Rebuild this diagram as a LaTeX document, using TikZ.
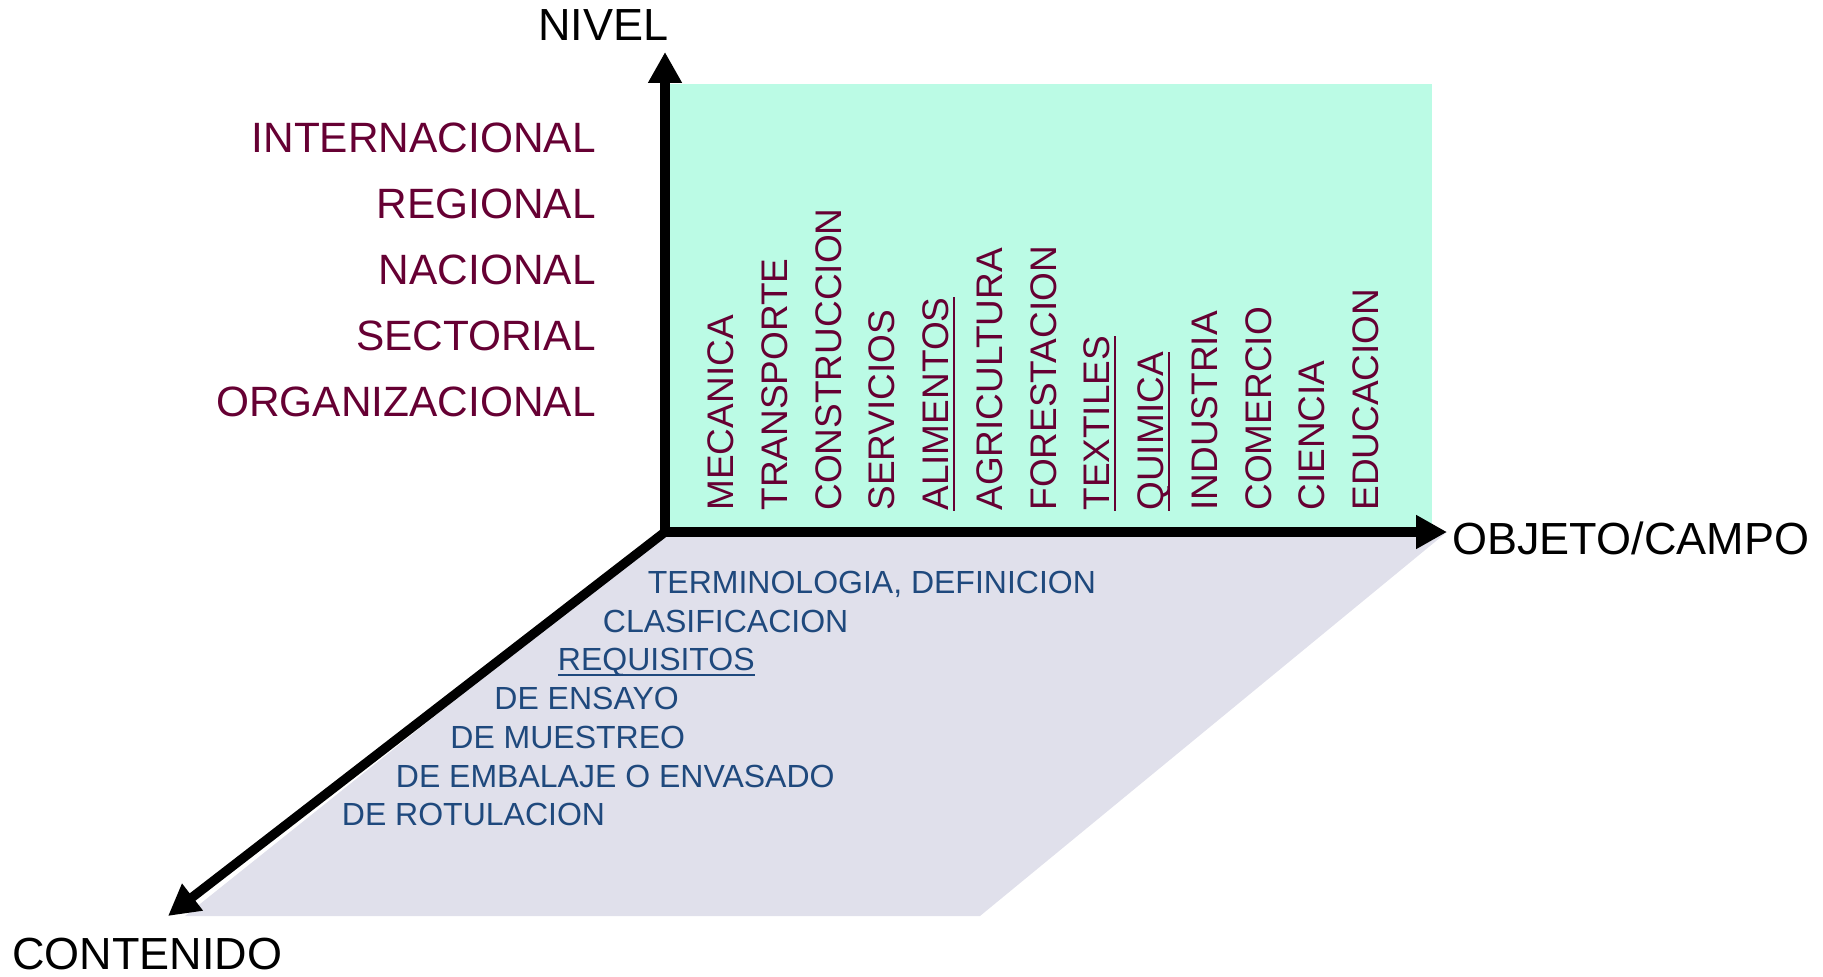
\documentclass[tikz,border=0pt]{standalone}
\usepackage{fontspec}
\setmainfont{Liberation Sans}
\usetikzlibrary{arrows.meta}

\definecolor{nivcolor}{RGB}{102,0,51}
\definecolor{contcolor}{RGB}{31,73,125}
\definecolor{campofill}{RGB}{187,251,229}
\definecolor{contfill}{RGB}{224,224,235}

\newcommand{\ulw}[1]{\setbox0=\hbox{#1}\rlap{\rule[-3.2pt]{\wd0}{1pt}}\box0}

\begin{document}
\begin{tikzpicture}[x=0.5pt,y=0.5pt,yscale=-1,xscale=1,
  axis/.style={line width=4.65pt,-{Triangle[length=15.5pt,width=16pt]}},
  axislbl/.style={anchor=base west,inner sep=0pt,font=\fontsize{22.5}{27}\selectfont},
  nivlbl/.style={anchor=base east,inner sep=0pt,text=nivcolor,font=\fontsize{21.2}{25}\selectfont},
  campolbl/.style={anchor=base west,inner sep=0pt,rotate=90,text=nivcolor,font=\fontsize{18.5}{22}\selectfont},
  contlbl/.style={anchor=base west,inner sep=0pt,text=contcolor,font=\fontsize{16}{19}\selectfont}]
\useasboundingbox (0,0) rectangle (1823,977);

%Shape: Rectangle (plano nivel/campo)
\fill [campofill] (665,84) rectangle (1432,532);
%Shape: Polygon (plano contenido)
\fill [contfill] (665,532) -- (1447,532) -- (980,916) -- (185,916) -- cycle;

\coordinate (O) at (665,532);
\coordinate (niveltip) at (665,52);
\coordinate (campotip) at (1447,532);
\coordinate (conttip) at (168,916);

% Text Node
\node (nivel) [axislbl] at (538,41) {NIVEL};
% Text Node
\node (campo) [axislbl] at (1452,554) {OBJETO/CAMPO};
% Text Node
\node (contenido) [axislbl] at (12,969) {CONTENIDO};

% Niveles
\node (int) [nivlbl] at (596,152.3) {INTERNACIONAL};
\node (reg) [nivlbl] at (596,218.3) {REGIONAL};
\node (nac) [nivlbl] at (596,285) {NACIONAL};
\node (sec) [nivlbl] at (596,350.7) {SECTORIAL};
\node (org) [nivlbl] at (596,416.7) {ORGANIZACIONAL};

% Campos
\node (mec) [campolbl] at (733.5,511) {MECANICA};
\node (tra) [campolbl] at (787.25,511) {TRANSPORTE};
\node (con) [campolbl] at (841,511) {CONSTRUCCION};
\node (ser) [campolbl] at (894.75,511) {SERVICIOS};
\node (ali) [campolbl] at (948.5,511) {\ulw{ALIMENTOS}};
\node (agr) [campolbl] at (1002.25,511) {AGRICULTURA};
\node (for) [campolbl] at (1056,511) {FORESTACION};
\node (tex) [campolbl] at (1109.75,511) {\ulw{TEXTILES}};
\node (qui) [campolbl] at (1163.5,511) {\ulw{QUIMICA}};
\node (ind) [campolbl] at (1217.25,511) {INDUSTRIA};
\node (com) [campolbl] at (1271,511) {COMERCIO};
\node (cie) [campolbl] at (1324.75,511) {CIENCIA};
\node (edu) [campolbl] at (1378.5,511) {EDUCACION};

% Contenidos
\node (ter) [contlbl] at (647.5,593.4) {TERMINOLOGIA, DEFINICION};
\node (cla) [contlbl] at (602.5,632) {CLASIFICACION};
\node (req) [contlbl] at (557.5,670) {\ulw{REQUISITOS}};
\node (ens) [contlbl] at (494,709) {DE ENSAYO};
\node (mue) [contlbl] at (450,748) {DE MUESTREO};
\node (emb) [contlbl] at (395.5,787) {DE EMBALAJE O ENVASADO};
\node (rot) [contlbl] at (341.5,825.5) {DE ROTULACION};

%Straight Lines (ejes)
\draw [axis,line cap=rect] (O) -- (niveltip);
\draw [axis,line cap=rect] (O) -- (campotip);
\draw [axis] (O) -- (conttip);

\end{tikzpicture}
\end{document}
